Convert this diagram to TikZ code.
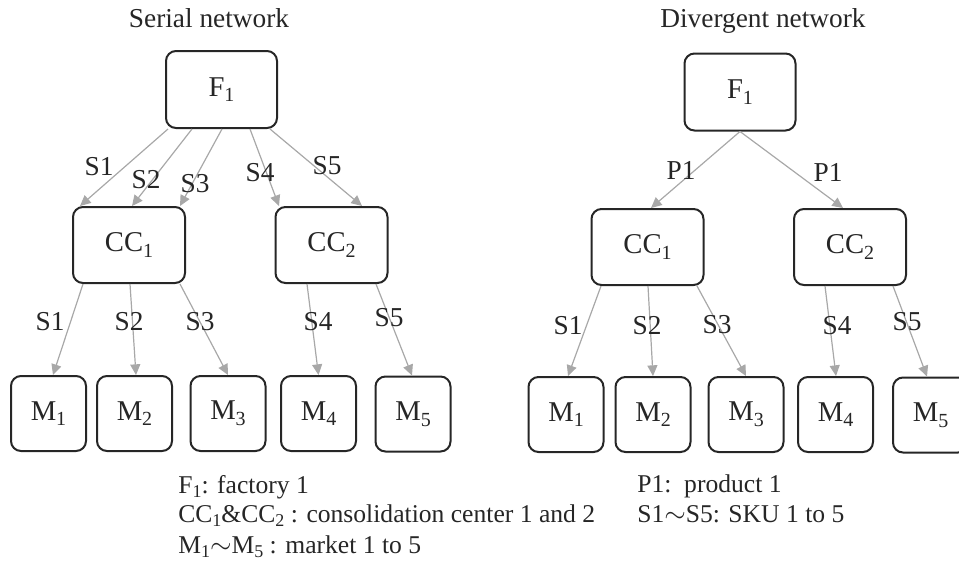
\documentclass[tikz,border=0pt]{standalone}
\usepackage{fontspec}
\setmainfont{Liberation Serif}
\usetikzlibrary{arrows.meta,calc}
\definecolor{boxline}{HTML}{262626}
\definecolor{arrowgray}{HTML}{A8A8A8}
\definecolor{textcol}{HTML}{262626}
\newcommand\mysub[1]{\raisebox{-4.2pt}{\fontsize{15}{15}\selectfont #1}}
\newcommand\legsub[1]{\raisebox{-3pt}{\fontsize{13.5}{13.5}\selectfont #1}}
\begin{document}
\begin{tikzpicture}[x=0.75pt,y=-0.75pt,
  every node/.style={text=textcol,font=\fontsize{20.5}{24}\selectfont},
  box/.style={draw=boxline,line width=1.5pt,rounded corners=7.5pt,inner sep=0pt,
    font=\fontsize{21.5}{24}\selectfont},
  topbox/.style={box,minimum width=83.25pt,minimum height=57.75pt},
  ccbox/.style={box,minimum width=84pt,minimum height=57pt},
  mbox/.style={box,minimum width=56.25pt,minimum height=56.25pt},
  flow/.style={draw=arrowgray,line width=0.9pt,-{Triangle[length=8pt,width=7.5pt]}},
  lab/.style={inner sep=0pt},
  leg/.style={inner sep=0pt,anchor=base west,font=\fontsize{19.2}{22}\selectfont}]
\useasboundingbox (0,0) rectangle (959,561);
\clip (0,0) rectangle (959,561);
% ---------- Serial network ----------
\node[lab,anchor=base] (t1) at (209,27) {Serial network};
\node[topbox] (lF) at (221.5,89.5) {F\mysub{1}};
\node[ccbox] (lC1) at (129,245) {CC\mysub{1}};
\node[ccbox] (lC2) at (331.5,245) {CC\mysub{2}};
\node[mbox] (lM1) at (48.5,413.5) {M\mysub{1}};
\node[mbox] (lM2) at (134.5,413.5) {M\mysub{2}};
\node[mbox] (lM3) at (228,413.5) {M\mysub{3}};
\node[mbox] (lM4) at (318.5,413.5) {M\mysub{4}};
\node[mbox] (lM5) at (413,414) {M\mysub{5}};
\draw[flow] ($(lF.south)+(-53.5,0)$) -- ($(lC1.north)+(-49,0)$);
\draw[flow] ($(lF.south)+(-29.5,0)$) -- ($(lC1.north)+(3,0)$);
\draw[flow] ($(lF.south)+(0.5,0)$) -- ($(lC1.north)+(51,0)$);
\draw[flow] ($(lF.south)+(28.5,0)$) -- ($(lC2.north)+(-52.5,0)$);
\draw[flow] ($(lF.south)+(48.5,0)$) -- ($(lC2.north)+(30.5,0)$);
\node[lab] (ls1) at (99,167) {S1};
\node[lab] (ls2) at (146,180) {S2};
\node[lab] (ls3) at (195,184) {S3};
\node[lab] (ls4) at (260,173) {S4};
\node[lab] (ls5) at (327,166) {S5};
\draw[flow] ($(lC1.south)+(-46,0)$) -- ($(lM1.north)+(4.5,0)$);
\draw[flow] ($(lC1.south)+(1,0)$) -- ($(lM2.north)+(1.5,0)$);
\draw[flow] ($(lC1.south)+(51,0)$) -- ($(lM3.north)+(0,0)$);
\draw[flow] ($(lC2.south)+(-24.5,0)$) -- ($(lM4.north)+(0,0)$);
\draw[flow] ($(lC2.south)+(44.5,0)$) -- ($(lM5.north)+(-1,0)$);
\node[lab] (lt1) at (50,322) {S1};
\node[lab] (lt2) at (129,322) {S2};
\node[lab] (lt3) at (200,322) {S3};
\node[lab] (lt4) at (318,322) {S4};
\node[lab] (lt5) at (389,318) {S5};
% ---------- Divergent network ----------
\node[lab,anchor=base] (t2) at (763,27) {Divergent network};
\node[topbox] (rF) at (740,92) {F\mysub{1}};
\node[ccbox] (rC1) at (647.5,247) {CC\mysub{1}};
\node[ccbox] (rC2) at (850,247) {CC\mysub{2}};
\node[mbox] (rM1) at (566,414.5) {M\mysub{1}};
\node[mbox] (rM2) at (653,414.5) {M\mysub{2}};
\node[mbox] (rM3) at (746,414.5) {M\mysub{3}};
\node[mbox] (rM4) at (835.5,414.5) {M\mysub{4}};
\node[mbox] (rM5) at (930.5,415) {M\mysub{5}};
\draw[flow] (rF.south) -- ($(rC1.north)+(3.5,0)$);
\draw[flow] (rF.south) -- ($(rC2.north)+(-7,0)$);
\node[lab] (rp1) at (681,170) {P1};
\node[lab] (rp2) at (828,172) {P1};
\draw[flow] ($(rC1.south)+(-46.5,0)$) -- ($(rM1.north)+(2,0)$);
\draw[flow] ($(rC1.south)+(0.5,0)$) -- ($(rM2.north)+(0,0)$);
\draw[flow] ($(rC1.south)+(49.5,0)$) -- ($(rM3.north)+(0,0)$);
\draw[flow] ($(rC2.south)+(-25,0)$) -- ($(rM4.north)+(0.5,0)$);
\draw[flow] ($(rC2.south)+(43,0)$) -- ($(rM5.north)+(-3.5,0)$);
\node[lab] (rt1) at (568,326) {S1};
\node[lab] (rt2) at (647,326) {S2};
\node[lab] (rt3) at (717,325) {S3};
\node[lab] (rt4) at (837,326) {S4};
\node[lab] (rt5) at (907,322) {S5};
% ---------- Legends ----------
\node[leg] (lg1) at (178,493) {F\legsub{1}: factory 1};
\node[leg] (lg2) at (178,522) {CC\legsub{1}\&CC\legsub{2} : consolidation center 1 and 2};
\node[leg] (lg3) at (178,553) {M\legsub{1}$\sim$M\legsub{5} : market 1 to 5};
\node[leg] (rg1) at (637,492) {P1:\ \ product 1};
\node[leg] (rg2) at (637,522) {S1$\sim$S5: SKU 1 to 5};
\end{tikzpicture}
\end{document}
